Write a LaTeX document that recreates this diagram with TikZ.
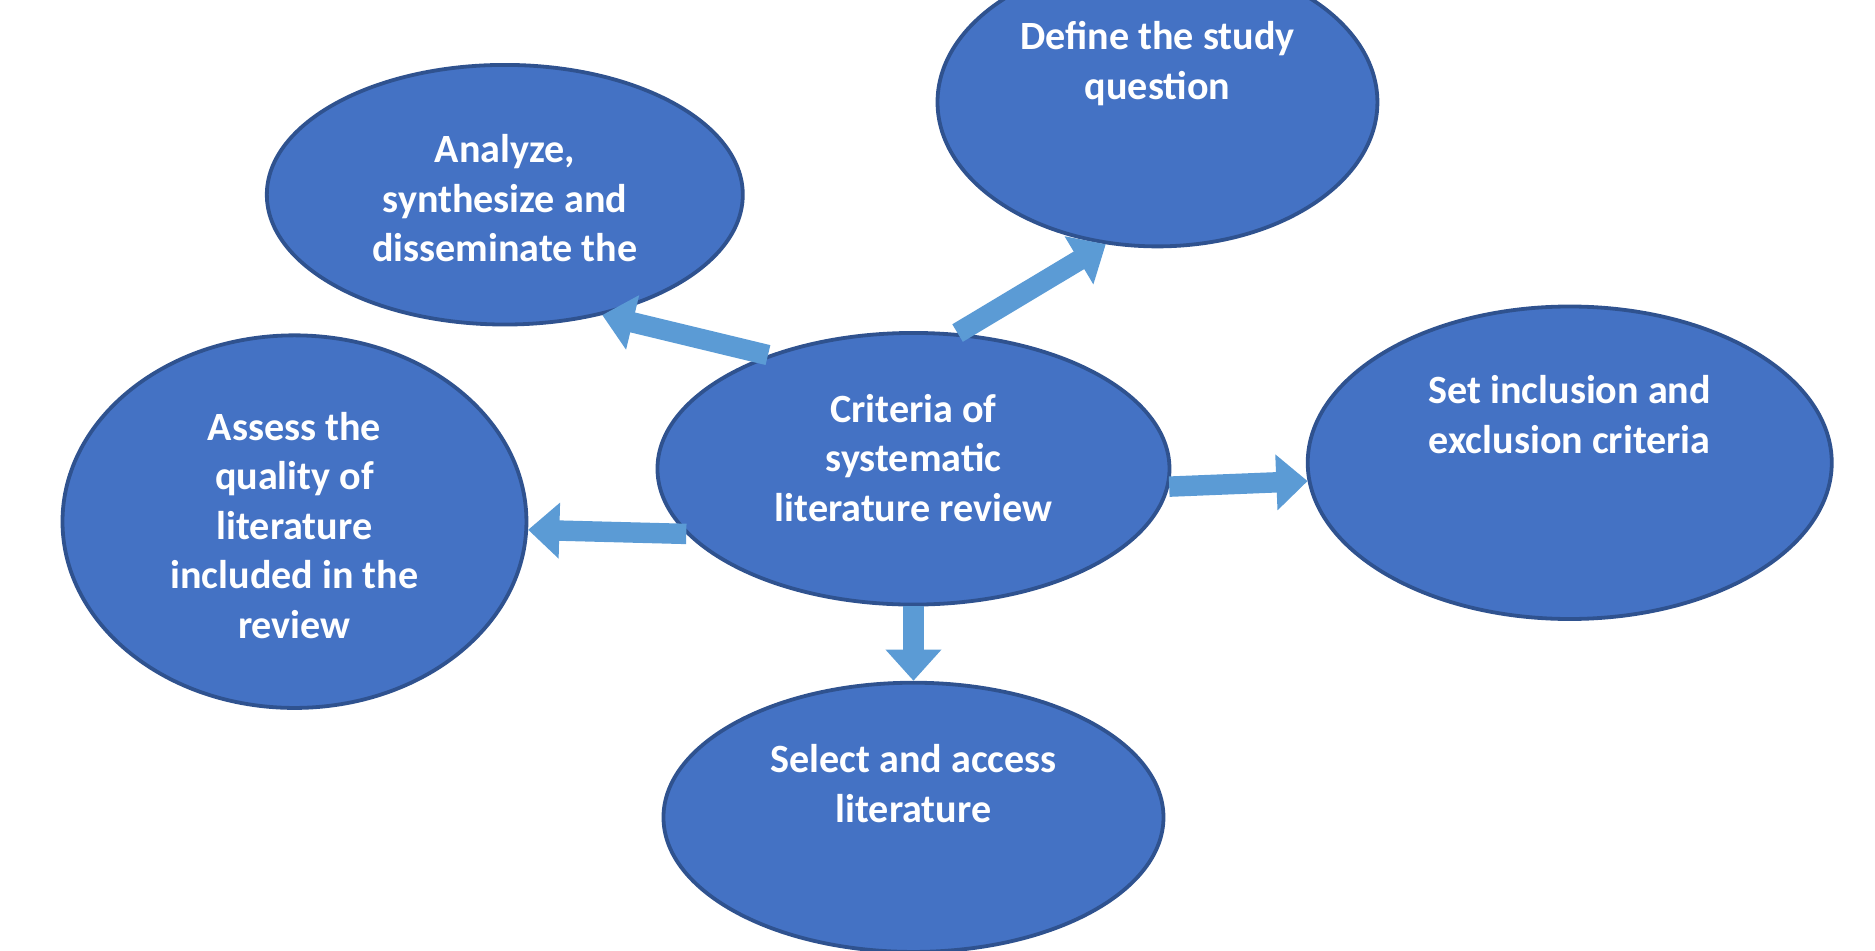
\documentclass[tikz,border=0pt]{standalone}
\usepackage{fontspec}
\setmainfont{Carlito}
\usetikzlibrary{arrows.meta}
\usetikzlibrary{shapes.geometric}
\definecolor{bubble}{HTML}{4472C4}
\definecolor{rim}{HTML}{2F528F}
\definecolor{shaft}{HTML}{5B9BD5}
\tikzset{bubble/.style={ellipse,draw=rim,line width=0.9pt,fill=bubble,text=white,
    font=\fontsize{9.5}{11.7}\selectfont\bfseries,align=center,inner sep=0pt}}
\tikzset{fat/.style={-{Triangle[width=0.45cm,length=0.26cm]},line width=0.17cm,draw=shaft}}

\begin{document}
\begin{tikzpicture}[x=1cm,y=-1cm]
        \useasboundingbox (0,0) rectangle (15.6,7.91);

        \node[bubble,minimum width=4.26cm,minimum height=2.26cm] (ctr) at (7.60,3.90) {};
        \node[bubble,minimum width=3.66cm,minimum height=2.40cm] (def) at (9.63,0.85) {};
        \node[bubble,minimum width=3.96cm,minimum height=2.16cm] (ana) at (4.20,1.62) {};
        \node[bubble,minimum width=4.36cm,minimum height=2.60cm] (inc) at (13.06,3.85) {};
        \node[bubble,minimum width=3.86cm,minimum height=3.10cm] (qua) at (2.45,4.34) {};
        \node[bubble,minimum width=4.16cm,minimum height=2.24cm] (sel) at (7.60,6.80) {};

        % texts sit high in the bubbles
        \node[bubble,draw=none,fill=none] at (7.60,3.81) {Criteria of\\systematic\\literature review};
        \node[bubble,draw=none,fill=none] at (9.63,0.53) {Define the study\\question};
        \node[bubble,draw=none,fill=none] at (4.20,1.65) {Analyze,\\synthesize and\\disseminate the};
        \node[bubble,draw=none,fill=none] at (13.06,3.45) {Set inclusion and\\exclusion criteria};
        \node[bubble,draw=none,fill=none] at (2.45,4.37) {Assess the\\quality of\\literature\\included in the\\review};
        \node[bubble,draw=none,fill=none] at (7.60,6.52) {Select and access\\literature};

        \draw[fat] (ctr.72) -- (def.250);
        \draw[fat] (ctr.142) -- (ana.309);
        \draw[fat] (ctr.196) -- (qua.358);
        \draw[fat] (ctr.356) -- (inc.184);
        \draw[fat] (ctr.south) -- (sel.north);
    \end{tikzpicture}
\end{document}
